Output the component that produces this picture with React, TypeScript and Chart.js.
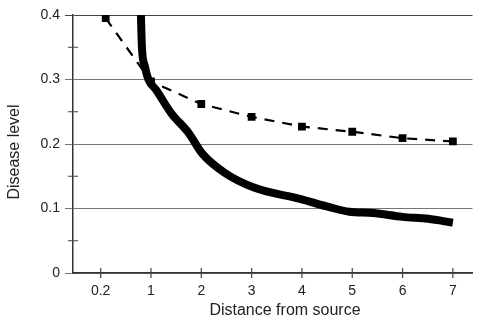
import React, { useEffect, useRef } from "react";
import { Chart, registerables } from "chart.js";

Chart.register(...registerables);

const xTickValues = [0, 1, 2, 3, 4, 5, 6, 7];
const xTickLabels = ["0.2", "1", "2", "3", "4", "5", "6", "7"];
const yMinorTicks = [0.05, 0.15, 0.25, 0.35];
const xTitle = "Distance from source";
const yTitle = "Disease level";

// dashed series with square markers
const dashedX = [0.1, 1, 2, 3, 4, 5, 6, 7];
const dashedY = [0.395, 0.297, 0.262, 0.242, 0.227, 0.219, 0.209, 0.204];

// thick solid series
const solidX = [0.79, 0.8, 0.82, 0.88, 0.95, 1.1, 1.4, 1.75, 2.02, 2.47, 3.06, 3.96, 4.55, 4.94, 5.41, 6.0, 6.51, 7.0];
const solidY = [0.43, 0.4, 0.35, 0.32, 0.3, 0.284, 0.248, 0.217, 0.185, 0.155, 0.132, 0.115, 0.102, 0.095, 0.093, 0.087, 0.084, 0.078];

const FONT = "'Liberation Sans', Arial, sans-serif";

const crossTicks = {
  id: "crossTicks",
  afterDraw(chart: any) {
    const { ctx, scales, chartArea } = chart;
    const xs = scales.x;
    const ys = scales.y;
    ctx.save();
    ctx.strokeStyle = "#444";
    ctx.lineWidth = 1.2;
    ctx.beginPath();
    for (const v of yMinorTicks) {
      const py = ys.getPixelForValue(v);
      ctx.moveTo(chartArea.left - 5, py);
      ctx.lineTo(chartArea.left + 5, py);
    }
    for (const v of xTickValues) {
      const px = xs.getPixelForValue(v);
      ctx.moveTo(px, chartArea.bottom - 5);
      ctx.lineTo(px, chartArea.bottom + 5);
    }
    ctx.stroke();

    // axis titles
    ctx.fillStyle = "#222";
    ctx.font = `16px ${FONT}`;
    ctx.textAlign = "center";
    ctx.textBaseline = "middle";
    ctx.fillText(xTitle, chartArea.left + 212, chartArea.bottom + 38);
    ctx.translate(15, chartArea.top + 137);
    ctx.rotate(-Math.PI / 2);
    ctx.fillText(yTitle, 0, 0);
    ctx.restore();
  },
};

export default function App() {
  const ref = useRef<HTMLCanvasElement>(null);
  useEffect(() => {
    const chart = new Chart(ref.current as HTMLCanvasElement, {
      type: "line",
      data: {
        datasets: [
          {
            label: "solid",
            data: solidX.map((x, i) => ({ x, y: solidY[i] })),
            borderColor: "#000",
            borderWidth: 8,
            borderCapStyle: "butt",
            pointRadius: 0,
            cubicInterpolationMode: "monotone",
            clip: 0,
          },
          {
            label: "dashed",
            data: dashedX.map((x, i) => ({ x, y: dashedY[i] })),
            borderColor: "#000",
            borderWidth: 2.2,
            borderDash: [10, 8],
            pointStyle: "rect",
            pointRadius: 5.5,
            pointBackgroundColor: "#000",
            pointBorderColor: "#000",
            pointBorderWidth: 0,
            tension: 0,
          },
        ],
      },
      options: {
        animation: false,
        responsive: false,
        layout: { padding: { top: 15, right: 0, left: 0, bottom: 0 } },
        plugins: { legend: { display: false }, tooltip: { enabled: false } },
        scales: {
          x: {
            type: "linear",
            min: -0.55,
            max: 7.39,
            afterFit: (s: any) => {
              s.height = 48;
            },
            afterBuildTicks: (s: any) => {
              s.ticks = xTickValues.map((v) => ({ value: v }));
            },
            ticks: {
              autoSkip: false,
              maxRotation: 0,
              padding: 10,
              color: "#222",
              font: { family: FONT, size: 14 },
              callback: (v: any) => xTickLabels[xTickValues.indexOf(Number(v))] ?? "",
            },
            grid: { drawOnChartArea: false, drawTicks: false },
            border: { display: true, color: "#333", width: 1.5 },
            title: { display: false },
          },
          y: {
            min: 0,
            max: 0.4,
            afterFit: (s: any) => {
              s.width = 73;
            },
            ticks: {
              stepSize: 0.1,
              padding: 5,
              color: "#222",
              font: { family: FONT, size: 14 },
              callback: (v: any) => (Number(v) === 0 ? "0" : Number(v).toFixed(1)),
            },
            grid: {
              color: (c: any) => (c.tick && c.tick.value >= 0.39 ? "#444" : "#777"),
              lineWidth: 1,
              tickLength: 8,
            },
            border: { display: true, color: "#333", width: 1.5 },
            title: { display: false },
          },
        },
      },
      plugins: [crossTicks],
    } as any);
    return () => chart.destroy();
  }, []);
  return (
    <div style={{ position: "fixed", left: 0, top: 0, width: 478, height: 321, background: "#fff" }}>
      <canvas ref={ref} width={478} height={321} />
    </div>
  );
}
